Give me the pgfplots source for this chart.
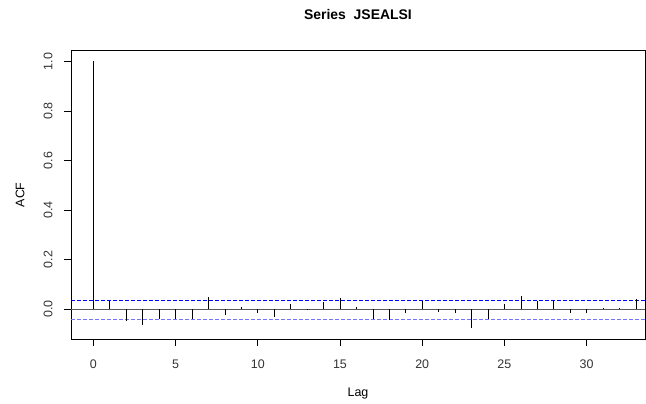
\documentclass[border=0pt]{standalone}
\usepackage{pgfplots}
\pgfplotsset{compat=1.18}
\usepackage{fontspec}
\setmainfont{Liberation Sans}
\definecolor{ciblue}{rgb}{0.45,0.45,1}
\begin{document}
\begin{tikzpicture}
\path[use as bounding box] (-71bp,-65bp) rectangle (575bp,339bp);
\begin{axis}[
  at={(0,0)}, anchor=south west,
  scale only axis, width=574bp, height=288.3bp,
  xmin=-1.36, xmax=33.55, ymin=-0.121, ymax=1.043,
  xtick={0,5,...,30}, ytick={0,0.2,0.4,0.6,0.8,1.0},
  xtick pos=lower, ytick pos=left,
  tick align=outside, major tick length=7bp,
  tick style={black, line width=0.6bp},
  axis line style={black, line width=0.6bp},
  /pgf/number format/assume math mode=true,
  yticklabel={\pgfmathprintnumber[fixed,fixed zerofill,precision=1]{\tick}},
  xticklabel style={font=\fontsize{12.5}{14}\selectfont, text=black!80, anchor=north, yshift=-10bp},
  yticklabel style={font=\fontsize{12.5}{14}\selectfont, text=black!80, rotate=90, anchor=south, yshift=8bp},
  xlabel={Lag}, ylabel={ACF},
  label style={font=\fontsize{12.5}{14}\selectfont},
  xlabel style={at={(0.5,-0.19)}, anchor=center},
  ylabel style={at={(-0.0889,0.5)}, anchor=center, rotate=0},
  title={\textbf{Series\ \ JSEALSI}},
  title style={font=\fontsize{14}{16}\selectfont, at={(0.5,1.0)}, anchor=center, yshift=30bp},
  clip=false,
]
\addplot[black!65, line width=0.7bp, forget plot] coordinates {(-1.36,0) (33.55,0)};
\addplot[blue, line width=0.7bp, dash pattern=on 4bp off 2bp, forget plot] coordinates {(-1.36,0.037) (33.55,0.037)};
\addplot[ciblue, line width=1.1bp, dash pattern=on 4bp off 2bp, forget plot] coordinates {(-1.36,-0.042) (33.55,-0.042)};
\addplot[ycomb, black, line width=0.7bp, no marks] coordinates {
(0,1.0) (1,0.031) (2,-0.048) (3,-0.064) (4,-0.042) (5,-0.039) (6,-0.042) (7,0.050)
(8,-0.025) (9,0.007) (10,-0.015) (11,-0.031) (12,0.021) (13,-0.003) (14,0.027)
(15,0.046) (16,0.007) (17,-0.042) (18,-0.046) (19,-0.015) (20,0.032) (21,-0.012)
(22,-0.015) (23,-0.076) (24,-0.040) (25,0.021) (26,0.051) (27,0.032) (28,0.036)
(29,-0.015) (30,-0.017) (31,0.005) (32,0.005) (33,0.039)
};
\end{axis}
\end{tikzpicture}
\end{document}
